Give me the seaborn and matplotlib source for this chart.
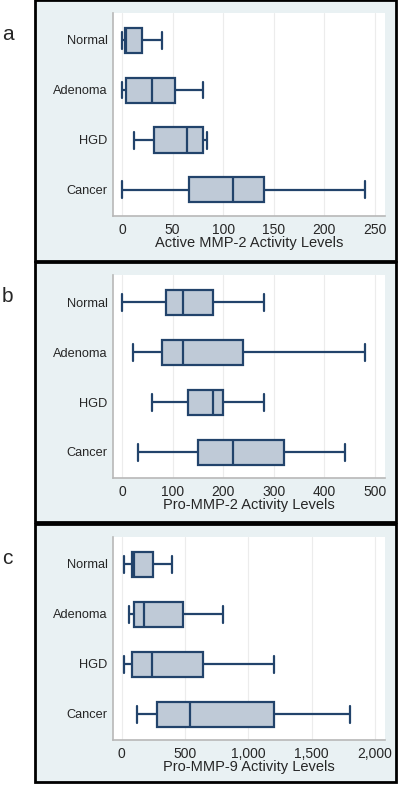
import numpy as np
import pandas as pd
import matplotlib
matplotlib.use("Agg")
import matplotlib.pyplot as plt
import seaborn as sns
from matplotlib.patches import Rectangle
from matplotlib.ticker import FuncFormatter

groups = ["Normal", "Adenoma", "HGD", "Cancer"]

# five-number summaries: min, q1, median, q3, max
active_mmp2 = {
    "Normal": [0, 3, 4, 20, 40],
    "Adenoma": [0, 3.6, 30, 52, 80],
    "HGD": [12, 32, 64.5, 80, 84],
    "Cancer": [0, 66, 110, 140, 240],
}
pro_mmp2 = {
    "Normal": [0, 88, 120, 180, 280],
    "Adenoma": [21, 80, 120, 240, 480],
    "HGD": [60, 130, 179, 200, 280],
    "Cancer": [32, 150, 220, 320, 441],
}
pro_mmp9 = {
    "Normal": [18, 81, 94, 243, 400],
    "Adenoma": [58, 97, 175, 484, 801],
    "HGD": [18, 81, 238, 639, 1201],
    "Cancer": [120, 277, 542, 1201, 1804],
}

panel_letters = ["a", "b", "c"]
x_labels = ["Active MMP-2 Activity Levels", "Pro-MMP-2 Activity Levels",
            "Pro-MMP-9 Activity Levels"]
x_ticks = [[0, 50, 100, 150, 200, 250],
           [0, 100, 200, 300, 400, 500],
           [0, 500, 1000, 1500, 2000]]
x_lims = [(-8.8, 260), (-17.7, 520), (-70, 2080)]
panels = [active_mmp2, pro_mmp2, pro_mmp9]

W, H = 400, 786
fill = "#bfcad7"
edge = "#22436b"
frame_bg = "#e9f1f3"
axis_grey = "#b8b8b8"

sns.set_style("white")
plt.rcParams["font.family"] = ["Liberation Sans", "DejaVu Sans"]

fig = plt.figure(figsize=(W / 100, H / 100), dpi=100)

frames = [(0, 261), (262, 522), (524, 782)]

for i, summ in enumerate(panels):
    top, bot = frames[i]
    fig.add_artist(Rectangle((35 / W, 1 - bot / H), (396 - 35) / W, (bot - top) / H,
                             transform=fig.transFigure, facecolor=frame_bg,
                             edgecolor="black", linewidth=2, zorder=-5))
    fig.text(2 / W, 1 - (top + 35) / H, panel_letters[i], fontsize=15,
             va="center", ha="left")

    off = top
    ax = fig.add_axes([113 / W, 1 - (216 + off) / H, (385 - 113) / W, 203 / H])
    ax.set_facecolor("white")

    df = pd.DataFrame([(g, v) for g in groups for v in summ[g]],
                      columns=["group", "value"])
    sns.boxplot(data=df, x="value", y="group", order=groups, orient="h",
                whis=(0, 100), width=0.5, color=fill, linecolor=edge,
                linewidth=1.6, saturation=1, showfliers=False,
                capwidths=0.34, ax=ax)

    ax.set_xlim(*x_lims[i])
    ax.set_ylim(3.52, -0.54)
    ax.set_xticks(x_ticks[i])
    ax.xaxis.set_major_formatter(FuncFormatter(lambda v, p: f"{int(v):,}"))
    ax.grid(axis="x", color="#ececec", linewidth=0.8)
    ax.set_axisbelow(True)
    for s in ["top", "right"]:
        ax.spines[s].set_visible(False)
    for s in ["left", "bottom"]:
        ax.spines[s].set_color(axis_grey)
        ax.spines[s].set_linewidth(1.2)
    ax.tick_params(axis="x", length=3, color=axis_grey, labelsize=10, pad=2)
    ax.tick_params(axis="y", length=0, labelsize=9.2, pad=4)
    ax.set_ylabel("")
    ax.set_xlabel(x_labels[i], fontsize=10.5, labelpad=-1)

fig.savefig("out.png", dpi=100)
